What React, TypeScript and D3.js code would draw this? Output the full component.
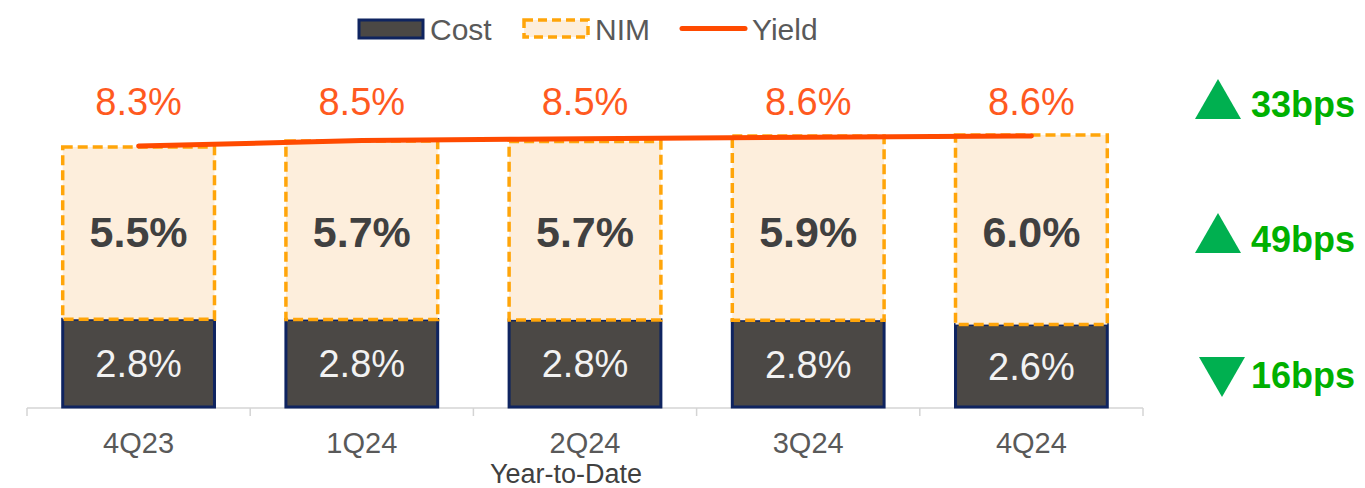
import React from "react";
import * as d3 from "d3";

const categories = ["4Q23", "1Q24", "2Q24", "3Q24", "4Q24"];
const costValues = [2.79, 2.78, 2.77, 2.76, 2.62];
const nimValues = [5.48, 5.68, 5.67, 5.86, 6.03];
const yieldValues = [8.3, 8.47, 8.53, 8.58, 8.62];
const changeLabels = ["33bps", "49bps", "16bps"];
const changeDirections = ["up", "up", "down"];
const legendItems = ["Cost", "NIM", "Yield"];
const xAxisTitle = "Year-to-Date";

const W = 1365;
const H = 488;
const FONT = "'Liberation Sans', Arial, Helvetica, sans-serif";

const COST_FILL = "#4b4845";
const COST_STROKE = "#0f2460";
const NIM_FILL = "#fdeedc";
const NIM_STROKE = "#ffa50a";
const YIELD_COLOR = "#ff4a00";
const YIELD_LABEL = "#ff5a1f";
const GREEN_TRI = "#00b050";
const GREEN_TXT = "#00b000";

export default function App() {
  const x = d3
    .scaleBand<string>()
    .domain(categories)
    .range([27, 1143])
    .paddingInner(0.32)
    .paddingOuter(0.16);
  const y = d3.scaleLinear().domain([0, 10]).range([407, 407 - 314.5]);
  const bw = x.bandwidth();
  const cx = (c: string) => (x(c) as number) + bw / 2;

  const line = d3
    .line<number>()
    .x((_, i) => cx(categories[i]))
    .y((d) => y(d))
    .curve(d3.curveMonotoneX);

  const step = x.step();
  const boundaries = d3.range(categories.length + 1).map((i) => 27 + i * step);

  const rowBaselines = [117, 252, 388];
  const rowCenters = [99, 233, 377];

  return (
    <svg
      width={W}
      height={H}
      style={{ position: "absolute", left: 0, top: 0, background: "#fff" }}
      fontFamily={FONT}
    >
      {/* Legend */}
      <g>
        <rect x={359} y={20} width={64} height={18} fill={COST_FILL} stroke={COST_STROKE} strokeWidth={3} />
        <text x={430} y={40} fontSize={30} fill="#595959">{legendItems[0]}</text>
        <rect x={524} y={20} width={64} height={17} fill={NIM_FILL} stroke={NIM_STROKE} strokeWidth={3.5} strokeDasharray="9 5" />
        <text x={595} y={40} fontSize={30} fill="#595959">{legendItems[1]}</text>
        <line x1={682} x2={745} y1={28.5} y2={28.5} stroke={YIELD_COLOR} strokeWidth={5} strokeLinecap="round" />
        <text x={752} y={40} fontSize={30} fill="#595959">{legendItems[2]}</text>
      </g>

      {/* Axis */}
      <g stroke="#d4d4d4" strokeWidth={1.5}>
        <line x1={boundaries[0]} x2={boundaries[boundaries.length - 1]} y1={408} y2={408} />
        {boundaries.map((b, i) => (
          <line key={i} x1={b} x2={b} y1={408} y2={416} />
        ))}
      </g>

      {/* Bars */}
      {categories.map((c, i) => {
        const x0 = x(c) as number;
        const costTop = y(costValues[i]);
        const nimTop = y(costValues[i] + nimValues[i]);
        return (
          <g key={c}>
            <rect x={x0} y={costTop} width={bw} height={y(0) - costTop} fill={COST_FILL} stroke={COST_STROKE} strokeWidth={3} />
            <rect x={x0} y={nimTop} width={bw} height={costTop - nimTop} fill={NIM_FILL} stroke={NIM_STROKE} strokeWidth={3.5} strokeDasharray="10 5" />
          </g>
        );
      })}

      {/* Yield line */}
      <path d={line(yieldValues) || ""} fill="none" stroke={YIELD_COLOR} strokeWidth={5} strokeLinecap="round" />

      {/* Labels */}
      {categories.map((c, i) => {
        const costTop = y(costValues[i]);
        const costMid = (costTop + y(0)) / 2;
        return (
          <g key={"l" + c} textAnchor="middle">
            <text x={cx(c)} y={115} fontSize={38} fill={YIELD_LABEL}>
              {yieldValues[i].toFixed(1) + "%"}
            </text>
            <text x={cx(c)} y={247} fontSize={43} fontWeight="bold" fill="#404040">
              {nimValues[i].toFixed(1) + "%"}
            </text>
            <text x={cx(c)} y={costMid + 14} fontSize={38} fill="#f2f2f2">
              {costValues[i].toFixed(1) + "%"}
            </text>
            <text x={cx(c)} y={453} fontSize={29} fill="#595959">
              {c}
            </text>
          </g>
        );
      })}

      <text x={566} y={483} fontSize={27} fill="#404040" textAnchor="middle">
        {xAxisTitle}
      </text>

      {/* Change annotations */}
      {changeLabels.map((t, i) => {
        const cyc = rowCenters[i];
        const up = changeDirections[i] === "up";
        const tx = up ? 1218 : 1222;
        const pts = up
          ? `${tx - 23},${cyc + 20} ${tx + 23},${cyc + 20} ${tx},${cyc - 20}`
          : `${tx - 23},${cyc - 20} ${tx + 23},${cyc - 20} ${tx},${cyc + 20}`;
        return (
          <g key={t}>
            <polygon points={pts} fill={GREEN_TRI} />
            <text x={1251} y={rowBaselines[i]} fontSize={36} fontWeight="bold" fill={GREEN_TXT}>
              {t}
            </text>
          </g>
        );
      })}
    </svg>
  );
}
